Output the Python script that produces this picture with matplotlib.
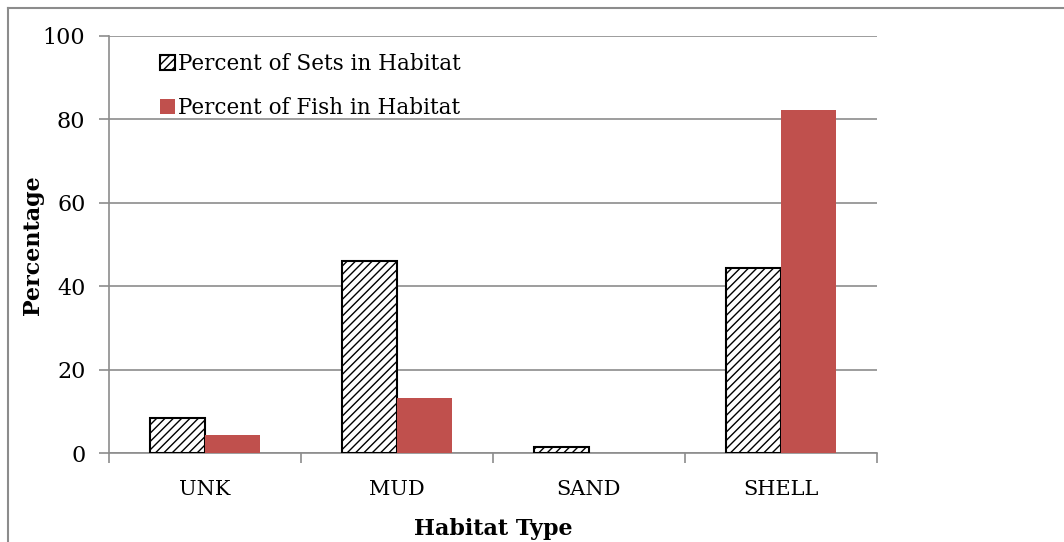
import matplotlib
matplotlib.use("Agg")
import matplotlib.pyplot as plt
from matplotlib.lines import Line2D
import numpy as np

categories = ["UNK", "MUD", "SAND", "SHELL"]
sets_pct = [8.4, 46.0, 1.4, 44.5]
fish_pct = [4.4, 13.2, 0.0, 82.2]
y_ticks = [0, 20, 40, 60, 80, 100]

plt.rcParams['font.family'] = ['DejaVu Serif']
plt.rcParams['hatch.linewidth'] = 1.0
plt.rcParams['hatch.color'] = '#1a1a1a'

fig = plt.figure(figsize=(10.64, 5.42), dpi=100)
ax = fig.add_axes([109/1064, 1-453.3/542, (877-109)/1064, (453.3-36)/542])

x = np.arange(len(categories))
w = 0.286
ax.bar(x - w/2, sets_pct, w, facecolor='white', edgecolor='black', hatch='////',
       linewidth=1.5, label='Percent of Sets in Habitat', zorder=3)
ax.bar(x + w/2, fish_pct, w, color='#C0504D', linewidth=0,
       label='Percent of Fish in Habitat', zorder=3)

ax.set_xlim(-0.5, 3.5)
ax.set_ylim(0, 100)
ax.set_yticks(y_ticks)
ax.yaxis.grid(True, color='#8c8c8c', linewidth=1.2, zorder=0)
ax.set_axisbelow(True)

ax.set_xticks(x)
ax.set_xticklabels(categories, fontsize=15)
ax.set_xticks(np.arange(-0.5, 4.0, 1.0), minor=True)
ax.tick_params(axis='x', which='major', length=0, pad=19)
ax.tick_params(axis='x', which='minor', length=7, width=1.2, color='#8c8c8c', direction='out')
ax.tick_params(axis='y', length=7, width=1.2, color='#8c8c8c', labelsize=16, pad=10)

for s in ['top', 'right']:
    ax.spines[s].set_visible(False)
for s in ['left', 'bottom']:
    ax.spines[s].set_color('#8c8c8c')
    ax.spines[s].set_linewidth(1.2)

ax.set_xlabel('Habitat Type', fontsize=16, fontweight='bold', labelpad=14)
ax.set_ylabel('Percentage', fontsize=16, fontweight='bold', labelpad=-1)

leg = ax.legend(loc='upper left', bbox_to_anchor=(0.041, 1.005), frameon=False,
                fontsize=15.5, handlelength=0.7, handleheight=0.7,
                handletextpad=0.15, labelspacing=1.02)

# outer border (clipped at right/bottom)
fig.add_artist(Line2D([8/1064, 8/1064], [0, 1-8/542], transform=fig.transFigure,
                      color='#8c8c8c', linewidth=1.5))
fig.add_artist(Line2D([8/1064, 1], [1-8/542, 1-8/542], transform=fig.transFigure,
                      color='#8c8c8c', linewidth=1.5))

fig.savefig('out.png', dpi=100)
